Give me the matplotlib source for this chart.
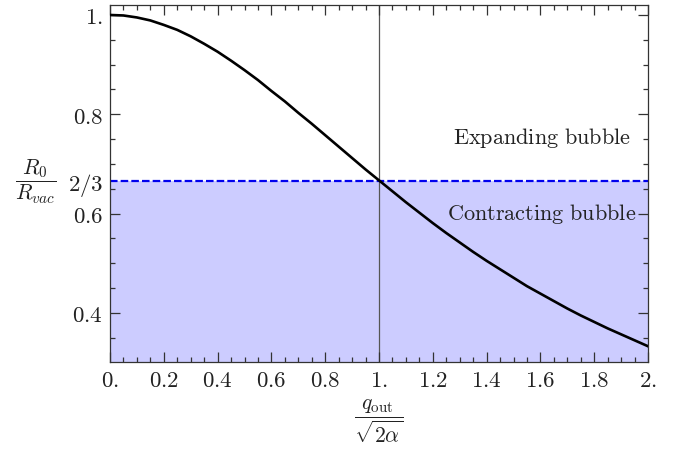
import matplotlib
matplotlib.use("Agg")
import matplotlib.pyplot as plt
from matplotlib.ticker import FixedLocator, MultipleLocator

plt.rcParams['mathtext.fontset'] = 'cm'
plt.rcParams['font.family'] = 'serif'
plt.rcParams['font.serif'] = ['DejaVu Serif']

# Curve
x_vals = [0.00, 0.05, 0.10, 0.15, 0.20, 0.25, 0.30, 0.35, 0.40, 0.45,
          0.50, 0.55, 0.60, 0.65, 0.70, 0.75, 0.80, 0.85, 0.90, 0.95,
          1.00, 1.05, 1.10, 1.15, 1.20, 1.25, 1.30, 1.35, 1.40, 1.45,
          1.50, 1.55, 1.60, 1.65, 1.70, 1.75, 1.80, 1.85, 1.90, 1.95, 2.00]
r_vals = [1.000, 0.999, 0.995, 0.989, 0.980, 0.970, 0.957, 0.942, 0.926, 0.908,
          0.889, 0.869, 0.847, 0.826, 0.803, 0.781, 0.758, 0.735, 0.712, 0.689,
          0.667, 0.645, 0.623, 0.602, 0.581, 0.561, 0.542, 0.523, 0.505, 0.488,
          0.471, 0.454, 0.439, 0.424, 0.409, 0.395, 0.382, 0.369, 0.357, 0.345, 0.333]

threshold = 2 / 3
x_crit = 1.0
xtick_vals = [0.0, 0.2, 0.4, 0.6, 0.8, 1.0, 1.2, 1.4, 1.6, 1.8, 2.0]
xtick_labels = ['0.', '0.2', '0.4', '0.6', '0.8', '1.', '1.2', '1.4', '1.6', '1.8', '2.']
ytick_vals = [0.4, 0.6, 0.8, 1.0, 2 / 3]
ytick_labels = ['0.4', '0.6', '0.8', '1.', '2/3']
label_top = 'Expanding bubble'
label_bottom = 'Contracting bubble'

fig = plt.figure(figsize=(6.78, 4.52), dpi=100)
ax = fig.add_axes([110 / 678, 1 - 363 / 452, (648 - 110) / 678, (363 - 5.7) / 452])

ymin, ymax = 0.3013, 1.0207
ax.set_xlim(0, 2)
ax.set_ylim(ymin, ymax)

ax.fill_between([0, 2], ymin, threshold, color='#ccccff', lw=0, zorder=0)
ax.axvline(x_crit, color='#555555', lw=0.9, zorder=1)
ax.axhline(threshold, color='#0000ee', lw=1.6, linestyle=(0, (3.4, 1.4)), zorder=2)
ax.plot(x_vals, r_vals, color='black', lw=1.9, zorder=3)

fs = 16
ax.text(1.605, 0.755, r'$\mathrm{' + label_top.replace(' ', r'\ ') + '}$',
        ha='center', va='center', fontsize=fs, color='#222222')
ax.text(1.605, 0.602, r'$\mathrm{' + label_bottom.replace(' ', r'\ ') + '}$',
        ha='center', va='center', fontsize=fs, color='#222222')

ax.xaxis.set_major_locator(FixedLocator(xtick_vals))
ax.set_xticklabels(['$' + t + '$' for t in xtick_labels], fontsize=16.5, color='#222222')
ax.xaxis.set_minor_locator(MultipleLocator(0.05))
ax.yaxis.set_major_locator(FixedLocator(ytick_vals))
ax.set_yticklabels(['$' + t + '$' for t in ytick_labels], fontsize=16.5, color='#222222')
ax.yaxis.set_minor_locator(FixedLocator([0.35, 0.45, 0.5, 0.55, 0.65, 0.7, 0.75, 0.85, 0.9, 0.95]))

ax.tick_params(which='both', direction='in', top=True, right=True, color='#333333', width=0.9)
ax.tick_params(which='major', length=7.5, pad=5)
ax.tick_params(which='minor', length=3.8)
# no tick mark for 2/3
ax.yaxis.get_major_ticks()[4].tick1line.set_visible(False)
ax.yaxis.get_major_ticks()[4].tick2line.set_visible(False)

for s in ax.spines.values():
    s.set_color('#333333')
    s.set_linewidth(0.9)

ax.set_xlabel(r'$\dfrac{q_{\rm out}}{\sqrt{2\alpha}}$', fontsize=15.5, labelpad=4, color='#222222')
ax.set_ylabel(r'$\dfrac{R_0}{R_{vac}}$', fontsize=15.5, rotation=0, color='#222222')
ax.yaxis.set_label_coords(-0.1375, (threshold - ymin) / (ymax - ymin))
ax.yaxis.label.set_va('center')
ax.yaxis.label.set_ha('center')

fig.savefig('out.png', dpi=100)
